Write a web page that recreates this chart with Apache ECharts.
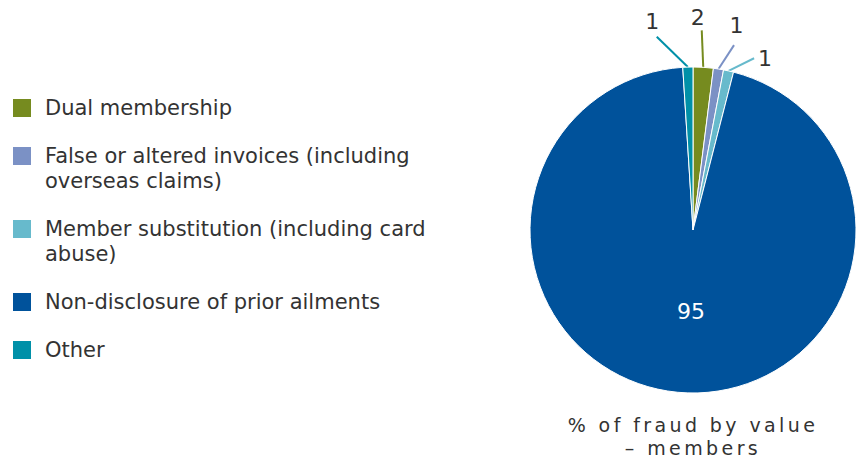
<!DOCTYPE html>
<html>
<head>
<meta charset="utf-8">
<script src="https://cdn.jsdelivr.net/npm/echarts@6/dist/echarts.min.js"></script>
<style>
  html, body { margin: 0; padding: 0; background: #fff; }
  #chart { width: 863px; height: 463px; }
  /* the caption under the pie is set with wide tracking */
  #chart svg text[style*="19px"] { letter-spacing: 3.4px; }
</style>
</head>
<body>
<div id="chart"></div>
<script>
// Fraud by value, member-side categories (percent)
const categories = [
  'Dual membership',
  'False or altered invoices (including overseas claims)',
  'Member substitution (including card abuse)',
  'Non-disclosure of prior ailments',
  'Other'
];
const legendText = [
  'Dual membership',
  'False or altered invoices (including\noverseas claims)',
  'Member substitution (including card\nabuse)',
  'Non-disclosure of prior ailments',
  'Other'
];
const values = [2, 1, 1, 95, 1];
const chartTitle = '% of fraud by value\n\u2013 members';

// Styling
const colors = ['#768b1f', '#7b91c5', '#67bacc', '#00529b', '#0090a8'];
const FONT = 'DejaVu Sans';
const TEXT_COLOR = '#333333';
const LINE = 25;      // legend line height
const GAP = 23;       // gap between legend entries
// leader line direction (degrees), length, and label offset from the line end
const leader = [
  { angle: 92.3, len: 37, off: [-4, -12.5] },
  { angle: 57, len: 28.5, off: [2.5, -20] },
  { angle: 26.4, len: 28.5, off: [11, 0] },
  null,
  { angle: 135.7, len: 43.5, off: [-4.5, -15] }
];

const chart = echarts.init(document.getElementById('chart'), null, { renderer: 'svg' });

// One legend block per category; wrapped entries get a blank lead line so the
// swatch sits beside the first line of text
let iconCenter = 108;
const legends = categories.map((name, i) => {
  const text = legendText[i];
  const lines = text.split('\n').length;
  const lg = {
    data: [name],
    orient: 'vertical',
    left: 11,
    top: iconCenter - LINE / 2 - (lines - 1) * LINE,
    padding: 0,
    icon: 'rect',
    itemWidth: 20,
    itemHeight: 20,
    selectedMode: false,
    formatter: () => '\n'.repeat(lines - 1) + text,
    textStyle: {
      fontFamily: FONT,
      fontSize: 21,
      color: TEXT_COLOR,
      lineHeight: LINE,
      padding: [0, 0, 0, 8]
    }
  };
  iconCenter += lines * LINE + GAP;
  return lg;
});

const seriesData = categories.map((name, i) => {
  const item = { name, value: values[i] };
  if (!leader[i]) {
    item.label = { position: 'inside', color: '#ffffff' };
    item.labelLine = { show: false };
  }
  return item;
});

chart.setOption({
  animation: false,
  color: colors,
  title: {
    text: chartTitle,
    left: 693,
    top: 413.5,
    textAlign: 'center',
    padding: 0,
    textStyle: {
      fontFamily: FONT,
      fontSize: 19,
      fontWeight: 'normal',
      color: TEXT_COLOR,
      lineHeight: 23
    }
  },
  legend: legends,
  series: [{
    type: 'pie',
    center: [693, 230],
    radius: 163,
    startAngle: 90,
    clockwise: true,
    avoidLabelOverlap: false,
    itemStyle: { borderColor: '#ffffff', borderWidth: 1 },
    label: {
      show: true,
      position: 'outside',
      formatter: '{c}',
      fontFamily: FONT,
      fontSize: 22,
      color: TEXT_COLOR
    },
    labelLine: {
      show: true,
      length: 30,
      length2: 0,
      smooth: false,
      lineStyle: { width: 2 }
    },
    labelLayout: function (params) {
      const spec = leader[params.dataIndex];
      const pts = params.labelLinePoints;
      if (!spec || !pts) return { dx: 6, dy: -3 };
      const a = spec.angle * Math.PI / 180;
      const p0 = pts[0];
      const end = [p0[0] + spec.len * Math.cos(a), p0[1] - spec.len * Math.sin(a)];
      return {
        x: end[0] + spec.off[0],
        y: end[1] + spec.off[1],
        align: 'center',
        verticalAlign: 'middle',
        labelLinePoints: [p0, end, end]
      };
    },
    data: seriesData
  }]
});
</script>
</body>
</html>
